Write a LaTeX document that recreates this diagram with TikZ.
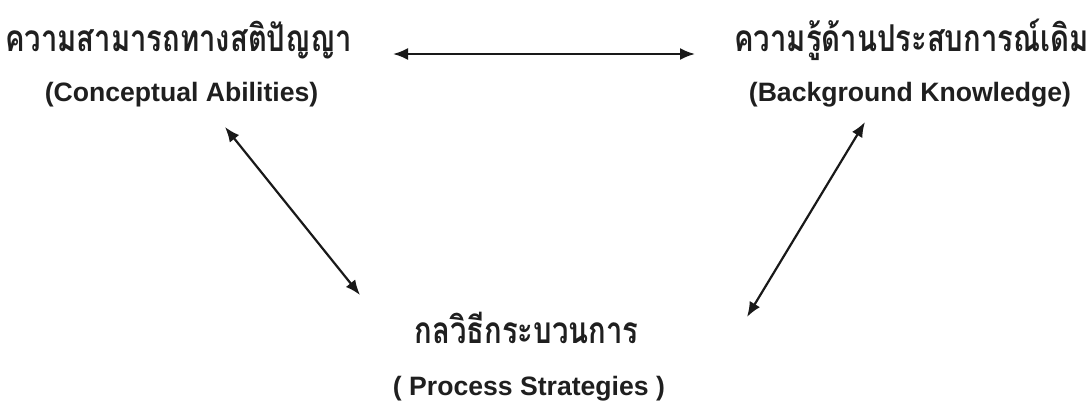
\documentclass[tikz,border=0pt]{standalone}
\usepackage{fontspec}
\setmainfont{Liberation Sans}
\newfontfamily\thaifont[Script=Thai,FakeStretch=0.79]{Loma}
\usetikzlibrary{arrows.meta}
\tikzset{
  thai/.style={inner sep=0pt, anchor=base, font=\thaifont\bfseries\fontsize{37}{40}\selectfont, text=black!88},
  eng/.style={inner sep=0pt, anchor=base, font=\bfseries\fontsize{26.6}{30}\selectfont, text=black!88},
  link/.style={line width=2.2pt, black!90, {Latex[length=15pt,width=12pt]}-{Latex[length=15pt,width=12pt]}}
}
\begin{document}
\begin{tikzpicture}[x=1pt,y=-1pt]
\useasboundingbox (0,0) rectangle (1090,402);
\node[thai] (cath) at (178.5,51) {ความสามารถทางสติปัญญา};
\node[eng] (caen) at (181.5,101.5) {(Conceptual Abilities)};
\node[thai] (bkth) at (911.5,51) {ความรู้ด้านประสบการณ์เดิม};
\node[eng] (bken) at (910,101.5) {(Background Knowledge)};
\node[thai] (psth) at (526.5,343) {กลวิธีกระบวนการ};
\node[eng] (psen) at (529,395) {( Process Strategies )};
\coordinate (h1) at (393,54);
\coordinate (h2) at (695,54);
\coordinate (l1) at (225,127);
\coordinate (l2) at (360,295);
\coordinate (r1) at (865,122);
\coordinate (r2) at (747,317);
\draw[link] (h1) -- (h2);
\draw[link] (l1) -- (l2);
\draw[link] (r1) -- (r2);
\end{tikzpicture}
\end{document}
